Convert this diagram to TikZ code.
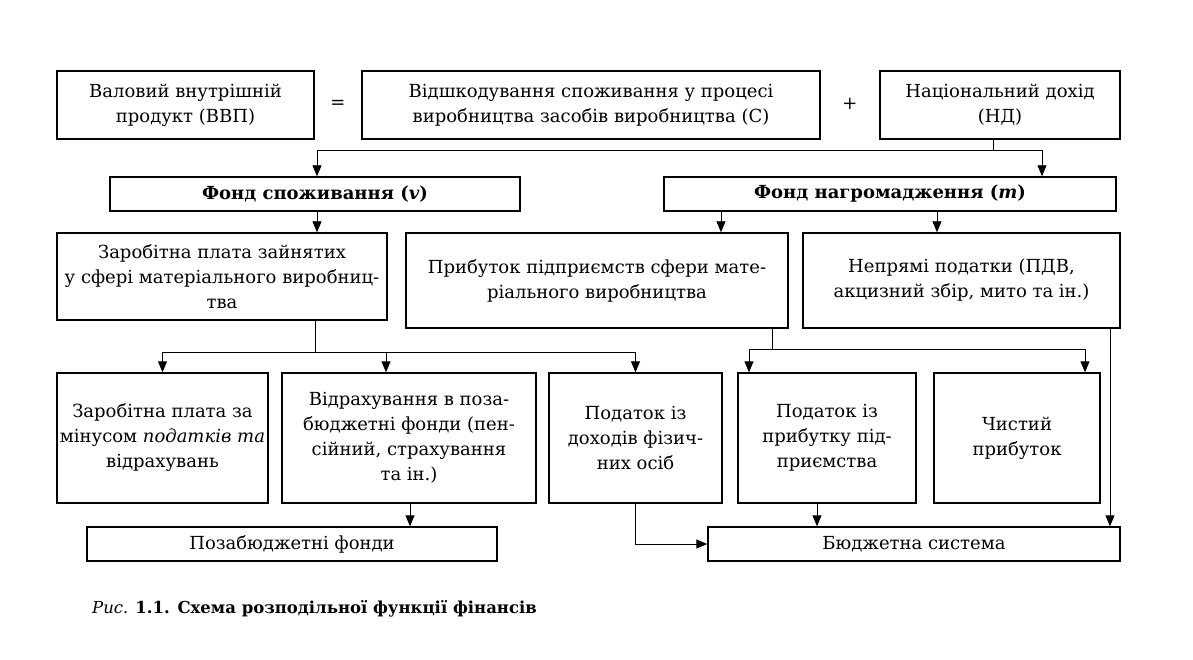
\documentclass[tikz,border=0pt]{standalone}
\usepackage{fontspec}
\setmainfont{DejaVu Serif}
\usetikzlibrary{arrows.meta}
\newcommand\fsz{\fontsize{18}{25}\selectfont}
\newcommand\boxat[6]{\node[box, minimum width={(#4-#2)*1pt}, minimum height={(#5-#3)*1pt}] (#1) at ({(#2+#4)/2},{(#3+#5)/2}) {#6};}
\begin{document}
\begin{tikzpicture}[x=1pt,y=-1pt,
  box/.style={draw, line width=1.4pt, align=center, inner sep=2pt, font=\fsz},
  conn/.style={line width=0.9pt},
  arr/.style={conn, -{Triangle[length=11pt,width=9pt]}},
  sign/.style={font=\fsz}]
\useasboundingbox (0,0) rectangle (1193,660);
% row 1
\boxat{vvp}{57}{71}{314}{139}{Валовий внутрішній\\продукт (ВВП)}
\boxat{c}{362}{71}{820}{139}{Відшкодування споживання у процесі\\виробництва засобів виробництва (С)}
\boxat{nd}{880}{71}{1120}{139}{Національний дохід\\(НД)}
\node[sign] (eq) at (338,104) {=};
\node[sign] (pl) at (850,104) {+};
% row 2
\boxat{fs}{110}{177}{520}{211}{\bfseries Фонд споживання (\textit{v})}
\boxat{fn}{664}{177}{1116}{211}{\bfseries Фонд нагромадження (\textit{m})}
% row 3
\boxat{zp}{57}{233}{387}{320}{Заробітна плата зайнятих\\у сфері матеріального виробниц-\\тва}
\boxat{pr}{406}{233}{788}{328}{Прибуток підприємств сфери мате-\\ріального виробництва}
\boxat{np}{803}{233}{1120}{328}{Непрямі податки (ПДВ,\\акцизний збір, мито та ін.)}
% row 4
\boxat{zm}{57}{373}{268}{503}{Заробітна плата за\\мінусом \textit{податків та}\\відрахувань}
\boxat{vid}{282}{373}{536}{503}{Відрахування в поза-\\бюджетні фонди (пен-\\сійний, страхування\\та ін.)}
\boxat{pd}{549}{373}{722}{503}{Податок із\\доходів фізич-\\них осіб}
\boxat{pp}{738}{373}{916}{503}{Податок із\\прибутку під-\\приємства}
\boxat{cp}{934}{373}{1100}{503}{Чистий\\прибуток}
% row 5
\boxat{pf}{87}{527}{497}{561}{Позабюджетні фонди}
\boxat{bs}{708}{527}{1120}{561}{Бюджетна система}
% caption
\node[anchor=west, font=\fontsize{16.5}{20}\selectfont, inner sep=0pt] (cap) at (92,609) {\textit{Рис.} \textbf{1.1. Схема розподільної функції фінансів}};
% connectors
\draw[conn] (nd.south -| 993,0) -- ++(0,11) coordinate (b1);
\draw[arr] (b1) -| (fs.north -| 317,0);
\draw[arr] (b1) -| (fn.north -| 1042,0);
\draw[arr] (fs.south -| 317,0) -- (zp.north -| 317,0);
\draw[arr] (fn.south -| 721,0) -- (pr.north -| 721,0);
\draw[arr] (fn.south -| 937,0) -- (np.north -| 937,0);
\draw[conn] (zp.south -| 315,0) -- ++(0,32) coordinate (b2);
\draw[arr] (b2) -| (zm.north);
\draw[arr] (b2) -| (vid.north -| 386,0);
\draw[arr] (b2) -| (pd.north);
\draw[conn] (pr.south -| 772,0) -- ++(0,21) coordinate (b3);
\draw[arr] (b3) -| (pp.north -| 749,0);
\draw[arr] (b3) -| (cp.north -| 1085,0);
\draw[arr] (np.south -| 1110,0) -- (bs.north -| 1110,0);
\draw[arr] (vid.south -| 410,0) -- (pf.north -| 410,0);
\draw[arr] (pp.south -| 817,0) -- (bs.north -| 817,0);
\draw[arr] (pd.south) |- (bs.west);
\end{tikzpicture}
\end{document}
